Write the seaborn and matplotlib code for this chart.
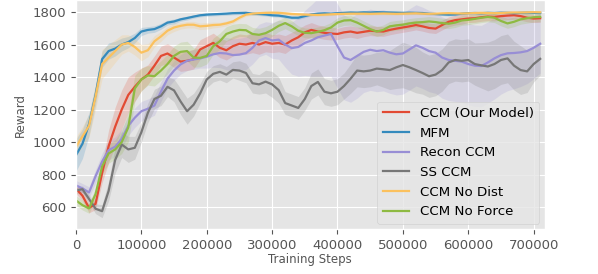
import numpy as np
import pandas as pd
import seaborn as sns
from matplotlib import pyplot as plt

steps = np.arange(0, 720000, 10000)

ccm = [713, 670, 595, 620, 810, 975, 1095, 1200, 1290, 1340, 1385, 1415, 1470, 1530, 1545, 1520, 1495, 1500,
       1510, 1570, 1590, 1610, 1580, 1565, 1590, 1605, 1600, 1610, 1600, 1615, 1605, 1610, 1600, 1625, 1645, 1675,
       1690, 1680, 1672, 1668, 1665, 1675, 1680, 1672, 1678, 1685, 1682, 1680, 1690, 1698, 1705, 1712, 1720, 1712,
       1702, 1698, 1720, 1740, 1750, 1755, 1760, 1762, 1768, 1772, 1770, 1775, 1778, 1780, 1775, 1765, 1760, 1762]
mfm = [919, 990, 1110, 1290, 1510, 1560, 1575, 1600, 1615, 1640, 1680, 1690, 1695, 1712, 1735, 1742, 1755, 1763,
       1772, 1780, 1784, 1786, 1788, 1790, 1793, 1794, 1795, 1790, 1788, 1785, 1780, 1778, 1772, 1765, 1765, 1775,
       1785, 1790, 1792, 1790, 1793, 1795, 1797, 1796, 1798, 1797, 1799, 1798, 1797, 1796, 1795, 1796, 1795, 1794,
       1790, 1788, 1786, 1784, 1785, 1790, 1793, 1794, 1793, 1795, 1794, 1796, 1795, 1793, 1795, 1796, 1795, 1794]
recon = [734, 715, 690, 790, 880, 950, 972, 1020, 1100, 1150, 1190, 1205, 1225, 1310, 1390, 1440, 1478, 1500,
         1508, 1515, 1525, 1540, 1548, 1545, 1535, 1538, 1547, 1580, 1625, 1640, 1625, 1630, 1600, 1578, 1585, 1610,
         1625, 1645, 1655, 1665, 1590, 1520, 1505, 1530, 1555, 1568, 1560, 1565, 1550, 1540, 1545, 1570, 1595, 1580,
         1560, 1550, 1520, 1505, 1500, 1495, 1480, 1470, 1468, 1490, 1515, 1535, 1546, 1548, 1552, 1560, 1580, 1605]
ss = [703, 710, 650, 590, 575, 700, 890, 985, 955, 965, 1060, 1180, 1265, 1285, 1340, 1318, 1250, 1190,
      1230, 1300, 1385, 1420, 1432, 1415, 1444, 1440, 1425, 1362, 1355, 1372, 1355, 1320, 1240, 1225, 1210, 1265,
      1345, 1370, 1310, 1300, 1310, 1345, 1390, 1440, 1435, 1440, 1452, 1448, 1443, 1460, 1474, 1460, 1443, 1425,
      1405, 1415, 1443, 1490, 1505, 1500, 1505, 1480, 1472, 1465, 1480, 1505, 1515, 1470, 1443, 1435, 1480, 1512]
no_dist = [971, 1035, 1100, 1280, 1480, 1520, 1560, 1600, 1610, 1585, 1550, 1565, 1620, 1650, 1685, 1705, 1715, 1722,
           1722, 1712, 1715, 1720, 1722, 1730, 1742, 1765, 1784, 1790, 1793, 1795, 1796, 1795, 1792, 1788, 1786, 1784,
           1783, 1782, 1784, 1786, 1788, 1789, 1790, 1790, 1790, 1789, 1790, 1791, 1790, 1789, 1790, 1791, 1792, 1790,
           1789, 1790, 1792, 1793, 1792, 1791, 1792, 1794, 1795, 1794, 1793, 1794, 1796, 1797, 1797, 1798, 1799, 1798]
no_force = [641, 612, 592, 680, 850, 930, 955, 1000, 1090, 1330, 1385, 1410, 1405, 1440, 1480, 1530, 1555, 1560,
            1520, 1518, 1530, 1590, 1620, 1665, 1680, 1690, 1688, 1665, 1660, 1670, 1690, 1715, 1732, 1712, 1685, 1672,
            1670, 1678, 1688, 1705, 1735, 1748, 1750, 1735, 1715, 1695, 1680, 1690, 1712, 1718, 1722, 1730, 1735, 1738,
            1742, 1738, 1732, 1728, 1735, 1748, 1752, 1758, 1765, 1770, 1765, 1745, 1730, 1740, 1755, 1762, 1768, 1770]

# half width of the shaded band around each curve
ccm_hw = [30, 30, 30, 35, 60, 100, 120, 120, 110, 90, 70, 60, 60, 60, 60, 60, 60, 60,
          60, 60, 60, 60, 60, 60, 60, 60, 60, 60, 60, 60, 55, 55, 55, 50, 50, 45,
          45, 40, 40, 40, 35, 35, 35, 35, 30, 30, 30, 30, 30, 30, 30, 30, 30, 30,
          30, 30, 30, 30, 30, 30, 25, 25, 25, 25, 25, 25, 25, 25, 25, 25, 25, 25]
mfm_hw = [100, 90, 70, 60, 50, 50, 45, 40, 35, 30, 25, 20, 20, 18, 15, 15, 12, 12,
          10, 10, 10, 10, 10, 10, 10, 10, 10, 10, 10, 10, 10, 10, 10, 10, 10, 10,
          8, 8, 8, 8, 8, 8, 8, 8, 8, 8, 8, 8, 8, 8, 8, 8, 8, 8,
          8, 8, 8, 8, 8, 8, 8, 8, 8, 8, 8, 8, 8, 8, 8, 8, 8, 8]
recon_hw = [30, 30, 35, 40, 50, 60, 60, 60, 60, 60, 60, 60, 60, 60, 60, 60, 60, 60,
            60, 60, 70, 80, 90, 100, 100, 100, 100, 100, 100, 100, 110, 120, 140, 160, 180, 200,
            220, 240, 250, 260, 260, 260, 260, 260, 250, 250, 250, 250, 250, 250, 250, 250, 250, 250,
            250, 250, 250, 250, 250, 250, 250, 250, 250, 250, 250, 240, 230, 220, 210, 200, 190, 180]
ss_hw = [20, 20, 25, 30, 40, 60, 80, 80, 80, 70, 60, 60, 60, 60, 60, 70, 80, 80,
         70, 60, 50, 50, 50, 50, 50, 60, 60, 60, 60, 70, 80, 80, 70, 70, 70, 70,
         80, 80, 80, 80, 80, 80, 90, 100, 100, 100, 100, 110, 120, 130, 140, 140, 140, 130,
         130, 130, 130, 130, 130, 130, 130, 130, 140, 150, 150, 150, 150, 150, 150, 130, 110, 100]
no_dist_hw = [60, 60, 70, 80, 90, 80, 70, 60, 50, 50, 50, 40, 35, 30, 25, 25, 20, 20,
              20, 20, 20, 18, 15, 15, 12, 12, 10, 10, 10, 10, 10, 10, 10, 10, 10, 10,
              8, 8, 8, 8, 8, 8, 8, 8, 8, 8, 8, 8, 8, 8, 8, 8, 8, 8,
              8, 8, 8, 8, 8, 8, 8, 8, 8, 8, 8, 8, 8, 8, 8, 8, 8, 8]
no_force_hw = [30, 30, 30, 35, 50, 60, 60, 70, 90, 80, 70, 60, 60, 60, 60, 60, 60, 60,
               60, 55, 50, 50, 50, 45, 45, 40, 40, 40, 40, 40, 40, 35, 35, 35, 30, 30,
               30, 30, 30, 30, 30, 30, 30, 30, 30, 30, 30, 30, 30, 30, 30, 30, 30, 30,
               30, 30, 30, 30, 30, 30, 30, 30, 30, 30, 30, 30, 30, 30, 30, 30, 30, 30]

names = ['CCM (Our Model)', 'MFM', 'Recon CCM', 'SS CCM', 'CCM No Dist', 'CCM No Force']
colors = ['#E24A33', '#348ABD', '#988ED5', '#777777', '#FBC15E', '#8EBA42']
curves = [ccm, mfm, recon, ss, no_dist, no_force]
bands = [ccm_hw, mfm_hw, recon_hw, ss_hw, no_dist_hw, no_force_hw]

plt.style.use('ggplot')
plt.rcParams['font.family'] = ['DejaVu Sans']

fig, ax = plt.subplots(figsize=(5.98, 2.74), dpi=100)
fig.subplots_adjust(left=0.127, right=0.911, bottom=0.164, top=1.0)

for name, col, y, hw in zip(names, colors, curves, bands):
    y = np.array(y)
    hw = np.array(hw)
    ax.fill_between(steps, y - hw, y + hw, color=col, alpha=0.2, linewidth=0)

for name, col, y in zip(names, colors, curves):
    df = pd.DataFrame({'step': steps, 'reward': y})
    sns.lineplot(data=df, x='step', y='reward', color=col, linewidth=1.6, label=name, ax=ax)

ax.set_xlim(0, 717000)
ax.set_ylim(465, 1874)
ax.set_yticks([600, 800, 1000, 1200, 1400, 1600, 1800])
ax.set_xticks(np.arange(0, 800000, 100000))
ax.ticklabel_format(style='plain', axis='x')
ax.tick_params(labelsize=9.5, colors='#555555')
ax.set_xlabel('Training Steps', fontsize=8.5, color='#555555', labelpad=1)
ax.set_ylabel('Reward', fontsize=8.5, color='#555555')
leg = ax.legend(loc='lower right', fontsize=9.6, framealpha=0.8, borderaxespad=0.4)

plt.savefig('out.png', dpi=100)
